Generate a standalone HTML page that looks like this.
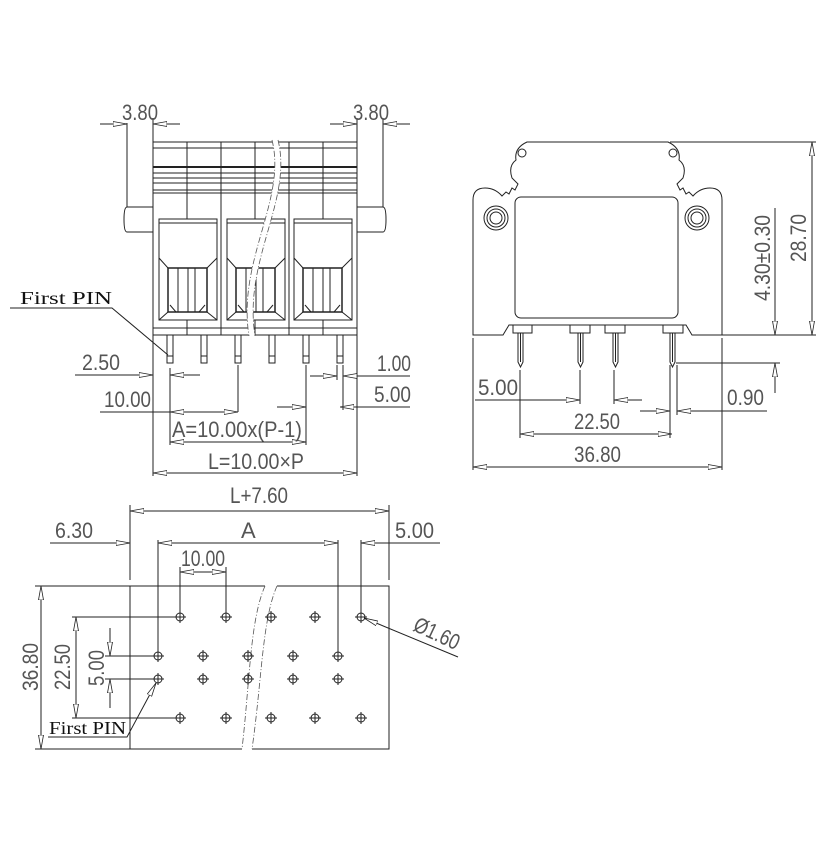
<!DOCTYPE html>
<html><head><meta charset="utf-8"><style>
html,body{margin:0;padding:0;background:#fff;}
svg{display:block;}
.t{font-family:"Liberation Sans",sans-serif;font-size:22px;fill:#555;}
.s{font-family:"Liberation Serif",serif;font-size:18px;fill:#111;}
</style></head><body>
<svg width="830" height="852" viewBox="0 0 830 852" xmlns="http://www.w3.org/2000/svg">
<defs>
<marker id="a" viewBox="0 0 14 6" refX="14" refY="3" markerWidth="14" markerHeight="6" markerUnits="userSpaceOnUse" orient="auto-start-reverse">
<path d="M0,0.5 L14,3 L0,5.5 Z" fill="#fff" stroke="#222" stroke-width="0.8"/>
</marker>
<g id="h" stroke="#222" stroke-width="1" fill="none"><circle cx="0" cy="0" r="4"/><line x1="-6" y1="0" x2="6" y2="0"/><line x1="0" y1="-6" x2="0" y2="6"/></g>
</defs>
<g stroke="#222" stroke-width="1" fill="none">
<!-- LEFT VIEW -->
<rect x="153" y="142" width="204" height="193"/>
<line x1="153" y1="148" x2="357" y2="148"/>
<line x1="153" y1="167" x2="357" y2="167" stroke-width="2"/>
<line x1="153" y1="173" x2="357" y2="173"/>
<line x1="153" y1="178" x2="357" y2="178"/>
<line x1="153" y1="183" x2="357" y2="183"/>
<line x1="153" y1="190" x2="357" y2="190"/>
<line x1="153" y1="193" x2="357" y2="193"/>
<line x1="153" y1="328" x2="357" y2="328"/>
<g>
<line x1="187" y1="142" x2="187" y2="335"/><line x1="221" y1="142" x2="221" y2="335"/>
<line x1="255" y1="142" x2="255" y2="335"/><line x1="289" y1="142" x2="289" y2="335"/>
<line x1="323" y1="142" x2="323" y2="335"/>
</g>
<path d="M127,207 h26 v25 h-26 q-3,0 -3,-12.5 q0,-12.5 3,-12.5z"/>
<path d="M357,207 h26 q3,0 3,12.5 q0,12.5 -3,12.5 h-26z"/>
<g id="w">
<rect x="159" y="219" width="58" height="101" fill="#fff"/>
<line x1="159" y1="223" x2="217" y2="223"/>
<path d="M159,258 L168,268 H207 L217,258"/>
<rect x="168" y="268" width="39" height="44" stroke-width="1.5"/>
<line x1="178" y1="268" x2="178" y2="312"/><line x1="188" y1="268" x2="188" y2="312"/><line x1="195" y1="268" x2="195" y2="312"/>
<path d="M168,312 L159,320 M207,312 L217,320 M170,305 L176,312 M205,305 L199,312"/>
</g>
<use href="#w" x="68"/>
<use href="#w" x="135"/>
<g>
<rect x="167" y="335" width="6" height="28"/><rect x="201" y="335" width="6" height="28"/>
<rect x="235" y="335" width="6" height="28"/><rect x="269" y="335" width="6" height="28"/>
<rect x="303" y="335" width="6" height="28"/><rect x="337" y="335" width="6" height="28"/>
<line x1="167" y1="356" x2="173" y2="356"/><line x1="201" y1="356" x2="207" y2="356"/><line x1="235" y1="356" x2="241" y2="356"/><line x1="269" y1="356" x2="275" y2="356"/><line x1="303" y1="356" x2="309" y2="356"/><line x1="337" y1="356" x2="343" y2="356"/>
</g>
<path d="M275,140 C290,200 240,260 252,336" stroke="#fff" stroke-width="6"/>
<path d="M272,140 C287,200 237,260 249,336 M278,140 C293,200 243,260 255,336" stroke="#555" stroke-dasharray="6,2,1,2" stroke-width="0.8"/>
<!-- left dims -->
<line x1="127" y1="123" x2="127" y2="207"/><line x1="153" y1="118" x2="153" y2="142"/>
<line x1="100" y1="124" x2="127" y2="124" marker-end="url(#a)"/>
<line x1="180" y1="124" x2="153" y2="124" marker-end="url(#a)"/>
<line x1="357" y1="118" x2="357" y2="142"/><line x1="383" y1="118" x2="383" y2="207"/>
<line x1="330" y1="124" x2="357" y2="124" marker-end="url(#a)"/>
<line x1="410" y1="124" x2="383" y2="124" marker-end="url(#a)"/>
<line x1="153" y1="335" x2="153" y2="476"/><line x1="357" y1="335" x2="357" y2="476"/>
<line x1="75" y1="375" x2="153" y2="375" marker-end="url(#a)"/>
<line x1="200" y1="375" x2="170" y2="375" marker-end="url(#a)"/>
<line x1="170" y1="368" x2="170" y2="445"/>
<line x1="238" y1="365" x2="238" y2="412"/>
<line x1="100" y1="412" x2="170" y2="412"/>
<line x1="204" y1="412" x2="170" y2="412" marker-end="url(#a)"/>
<line x1="204" y1="412" x2="238" y2="412" marker-end="url(#a)"/>
<line x1="306" y1="365" x2="306" y2="445"/>
<line x1="277" y1="407" x2="306" y2="407" marker-end="url(#a)"/>
<line x1="238" y1="442" x2="170" y2="442" marker-end="url(#a)"/>
<line x1="238" y1="442" x2="306" y2="442" marker-end="url(#a)"/>
<line x1="255" y1="473" x2="153" y2="473" marker-end="url(#a)"/>
<line x1="255" y1="473" x2="357" y2="473" marker-end="url(#a)"/>
<line x1="337" y1="365" x2="337" y2="380"/><line x1="343" y1="365" x2="343" y2="410"/>
<line x1="310" y1="376" x2="337" y2="376" marker-end="url(#a)"/>
<line x1="410" y1="376" x2="343" y2="376" marker-end="url(#a)"/>
<line x1="410" y1="407" x2="340" y2="407" marker-end="url(#a)"/>
<path d="M10,308 H112 L168,355"/>
<!-- RIGHT VIEW -->
<path d="M473,335 V200 Q473,188 485,188 Q495,188 502,196 L506,192 L509,194 L512,188 L515,190 L518,184 L512,178 Q508,166 516,160 Q514,148 527,142 H668 Q681,148 679,160 Q687,166 683,178 L677,184 L680,190 L683,188 L686,194 L689,192 L693,196 Q700,188 710,188 Q722,188 722,200 V335 H692 L686,325 H509 L503,335 Z"/>
<circle cx="522" cy="153" r="4"/><circle cx="673" cy="153" r="4"/>
<rect x="515" y="197" width="163" height="121" rx="6"/>
<circle cx="496" cy="218" r="12"/><circle cx="496" cy="218" r="9"/><circle cx="496" cy="218" r="6"/>
<circle cx="697" cy="218" r="12"/><circle cx="697" cy="218" r="9"/><circle cx="697" cy="218" r="6"/>
<rect x="513" y="325" width="19" height="8"/><rect x="570" y="325" width="20" height="8"/>
<rect x="605" y="325" width="20" height="8"/><rect x="663" y="325" width="20" height="8"/>
<path d="M518,333 V362 L520.5,367 L523,362 V333 M520.5,333 V362"/>
<path d="M578,333 V362 L580.5,367 L583,362 V333 M580.5,333 V362"/>
<path d="M613,333 V362 L615.5,367 L618,362 V333 M615.5,333 V362"/>
<path d="M670,333 V362 L672.5,367 L675,362 V333 M672.5,333 V362"/>
<line x1="670" y1="142" x2="816" y2="142"/><line x1="722" y1="335" x2="816" y2="335"/>
<line x1="812" y1="238" x2="812" y2="142" marker-end="url(#a)"/>
<line x1="812" y1="238" x2="812" y2="335" marker-end="url(#a)"/>
<line x1="775" y1="208" x2="775" y2="335" marker-end="url(#a)"/>
<line x1="676" y1="363" x2="780" y2="363"/>
<line x1="775" y1="393" x2="775" y2="363" marker-end="url(#a)"/>
<line x1="473" y1="338" x2="473" y2="470"/><line x1="722" y1="338" x2="722" y2="470"/>
<line x1="520" y1="370" x2="520" y2="438"/><line x1="580" y1="370" x2="580" y2="404"/>
<line x1="614" y1="370" x2="614" y2="404"/>
<line x1="670" y1="365" x2="670" y2="438"/><line x1="677" y1="365" x2="677" y2="415"/>
<line x1="475" y1="400" x2="580" y2="400" marker-end="url(#a)"/>
<line x1="642" y1="400" x2="614" y2="400" marker-end="url(#a)"/>
<line x1="640" y1="411" x2="670" y2="411" marker-end="url(#a)"/>
<line x1="767" y1="411" x2="677" y2="411" marker-end="url(#a)"/>
<line x1="597" y1="434" x2="520" y2="434" marker-end="url(#a)"/>
<line x1="597" y1="434" x2="672" y2="434" marker-end="url(#a)"/>
<line x1="597" y1="467" x2="473" y2="467" marker-end="url(#a)"/>
<line x1="597" y1="467" x2="722" y2="467" marker-end="url(#a)"/>
<!-- BOTTOM VIEW -->
<path d="M265,586 H130 V749 H242 M252,749 H389 V586 H277"/>
<path d="M265,586 C250,620 250,680 242,749 M277,586 C262,620 262,680 252,749" stroke="#555" stroke-dasharray="6,2,1,2" stroke-width="0.8"/>
<use href="#h" x="180" y="617"/><use href="#h" x="226" y="617"/><use href="#h" x="271" y="617"/><use href="#h" x="315" y="617"/><use href="#h" x="361" y="617"/>
<use href="#h" x="158" y="656"/><use href="#h" x="203" y="656"/><use href="#h" x="248" y="656"/><use href="#h" x="293" y="656"/><use href="#h" x="338" y="656"/>
<use href="#h" x="158" y="679"/><use href="#h" x="203" y="679"/><use href="#h" x="248" y="679"/><use href="#h" x="293" y="679"/><use href="#h" x="338" y="679"/>
<use href="#h" x="180" y="718"/><use href="#h" x="226" y="718"/><use href="#h" x="271" y="718"/><use href="#h" x="315" y="718"/><use href="#h" x="361" y="718"/>
<line x1="130" y1="505" x2="130" y2="580"/><line x1="389" y1="505" x2="389" y2="580"/>
<line x1="260" y1="511" x2="130" y2="511" marker-end="url(#a)"/>
<line x1="260" y1="511" x2="389" y2="511" marker-end="url(#a)"/>
<line x1="158" y1="540" x2="158" y2="650"/><line x1="338" y1="540" x2="338" y2="650"/>
<line x1="361" y1="540" x2="361" y2="611"/>
<line x1="248" y1="543" x2="158" y2="543" marker-end="url(#a)"/>
<line x1="248" y1="543" x2="338" y2="543" marker-end="url(#a)"/>
<line x1="50" y1="543" x2="130" y2="543" marker-end="url(#a)"/>
<line x1="440" y1="543" x2="361" y2="543" marker-end="url(#a)"/>
<line x1="180" y1="567" x2="180" y2="611"/><line x1="226" y1="567" x2="226" y2="611"/>
<line x1="203" y1="572" x2="180" y2="572" marker-end="url(#a)"/>
<line x1="203" y1="572" x2="226" y2="572" marker-end="url(#a)"/>
<line x1="35" y1="586" x2="130" y2="586"/><line x1="35" y1="749" x2="130" y2="749"/>
<line x1="41" y1="667" x2="41" y2="586" marker-end="url(#a)"/>
<line x1="41" y1="667" x2="41" y2="749" marker-end="url(#a)"/>
<line x1="72" y1="617" x2="174" y2="617"/><line x1="72" y1="718" x2="174" y2="718"/>
<line x1="76" y1="667" x2="76" y2="617" marker-end="url(#a)"/>
<line x1="76" y1="667" x2="76" y2="718" marker-end="url(#a)"/>
<line x1="105" y1="656" x2="152" y2="656"/><line x1="105" y1="679" x2="152" y2="679"/>
<line x1="110" y1="628" x2="110" y2="656" marker-end="url(#a)"/>
<line x1="110" y1="708" x2="110" y2="679" marker-end="url(#a)"/>
<line x1="458" y1="657" x2="364" y2="618" marker-end="url(#a)"/>
<path d="M48,737 H127 L156,683" marker-end="url(#a)"/>
</g>
<!-- TEXT -->
<text class="t" x="122" y="120" textLength="36" lengthAdjust="spacingAndGlyphs">3.80</text>
<text class="t" x="353" y="120" textLength="36" lengthAdjust="spacingAndGlyphs">3.80</text>
<text class="s" x="20" y="304" textLength="92" lengthAdjust="spacingAndGlyphs">First PIN</text>
<text class="t" x="82" y="370" textLength="38" lengthAdjust="spacingAndGlyphs">2.50</text>
<text class="t" x="104" y="407" textLength="47" lengthAdjust="spacingAndGlyphs">10.00</text>
<text class="t" x="172" y="437" textLength="130" lengthAdjust="spacingAndGlyphs">A=10.00x(P-1)</text>
<text class="t" x="208" y="469" textLength="96" lengthAdjust="spacingAndGlyphs">L=10.00×P</text>
<text class="t" x="377" y="371" textLength="34" lengthAdjust="spacingAndGlyphs">1.00</text>
<text class="t" x="374" y="402" textLength="37" lengthAdjust="spacingAndGlyphs">5.00</text>
<text class="t" x="478" y="395" textLength="40" lengthAdjust="spacingAndGlyphs">5.00</text>
<text class="t" x="727" y="405" textLength="37" lengthAdjust="spacingAndGlyphs">0.90</text>
<text class="t" x="574" y="429" textLength="46" lengthAdjust="spacingAndGlyphs">22.50</text>
<text class="t" x="574" y="462" textLength="47" lengthAdjust="spacingAndGlyphs">36.80</text>
<text class="t" transform="translate(806,238) rotate(-90)" text-anchor="middle" textLength="48" lengthAdjust="spacingAndGlyphs">28.70</text>
<text class="t" transform="translate(770,258) rotate(-90)" text-anchor="middle" textLength="86" lengthAdjust="spacingAndGlyphs">4.30±0.30</text>
<text class="t" x="230" y="503" textLength="58" lengthAdjust="spacingAndGlyphs">L+7.60</text>
<text class="t" x="55" y="538" textLength="38" lengthAdjust="spacingAndGlyphs">6.30</text>
<text class="t" x="241" y="538">A</text>
<text class="t" x="395" y="538" textLength="39" lengthAdjust="spacingAndGlyphs">5.00</text>
<text class="t" x="181" y="566" textLength="44" lengthAdjust="spacingAndGlyphs">10.00</text>
<text class="t" transform="translate(38,667) rotate(-90)" text-anchor="middle" textLength="48" lengthAdjust="spacingAndGlyphs">36.80</text>
<text class="t" transform="translate(70,667) rotate(-90)" text-anchor="middle" textLength="46" lengthAdjust="spacingAndGlyphs">22.50</text>
<text class="t" transform="translate(104,668) rotate(-90)" text-anchor="middle" textLength="36" lengthAdjust="spacingAndGlyphs">5.00</text>
<text class="t" transform="translate(412,630) rotate(25)" textLength="48" lengthAdjust="spacingAndGlyphs">Ø1.60</text>
<text class="s" x="49" y="734" textLength="77" lengthAdjust="spacingAndGlyphs">First PIN</text>
</svg>
</body></html>
